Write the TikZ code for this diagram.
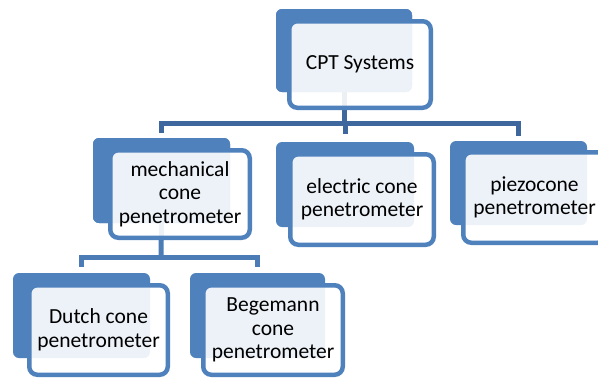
\documentclass[tikz,border=0pt]{standalone}
\usepackage{fontspec}
\setmainfont{Carlito}
\usepackage{tikz}
\usetikzlibrary{positioning, calc}
\definecolor{accent}{RGB}{79,129,189}
\definecolor{linkdark}{RGB}{62,103,158}
\definecolor{linklight}{RGB}{76,124,182}
\tikzset{
  backbox/.style ={rectangle, rounded corners=6pt, fill=accent, draw=none, inner sep=0pt},
  frontbox/.style={rectangle, rounded corners=8pt, draw=accent, line width=4.5pt,
                   fill=white, fill opacity=0.9, text opacity=1, align=center,
                   inner sep=0pt, font=\fontsize{21.5}{23.5}\selectfont},
  conn/.style    ={draw=linkdark, line width=5pt},
  connlow/.style ={draw=linklight, line width=5pt},
}
\begin{document}
\begin{tikzpicture}[x=1pt, y=-1pt]
\useasboundingbox (0,0) rectangle (598,378);
\clip (0,0) rectangle (598,378);
% back plates
\node[backbox, minimum width=136pt, minimum height=83pt] (cptB)   at (344,50.5)   {};
\node[backbox, minimum width=137pt, minimum height=85pt] (mechB)  at (161.5,180.5) {};
\node[backbox, minimum width=138pt, minimum height=85pt] (elecB)  at (345,184.5)  {};
\node[backbox, minimum width=137pt, minimum height=84pt] (piezoB) at (518.5,183)  {};
\node[backbox, minimum width=137pt, minimum height=85pt] (dutchB) at (81.5,315.5) {};
\node[backbox, minimum width=135pt, minimum height=85pt] (begB)   at (257.5,315.5) {};
% connectors
\coordinate (j1) at (344,123.5);
\coordinate (j2) at (161,257);
\draw[conn] (cptB.south) -- (j1);
\draw[conn, shorten <=5pt, shorten >=5pt] (mechB.north) |- (j1) -| (piezoB.north);
\draw[conn, shorten <=8pt] (elecB.north) -- (elecB.north |- j1);
\draw[connlow] (mechB.south) -- (j2);
\draw[connlow, shorten <=6pt, shorten >=6pt] (dutchB.north) |- (j2) -| (begB.north);
% redraw plates over connector ends
\node[backbox, minimum width=136pt, minimum height=83pt] at (cptB)   {};
\node[backbox, minimum width=137pt, minimum height=85pt] at (mechB)  {};
% front boxes
\node[frontbox, minimum width=141.5pt, minimum height=86.5pt] (cpt)   at (360,64.5)  {CPT Systems};
\node[frontbox, minimum width=139.5pt, minimum height=87.5pt] (mech)  at (180,194)   {mechanical\\cone\\penetrometer};
\node[frontbox, minimum width=143.5pt, minimum height=90.5pt] (elec)  at (362,199.5) {electric cone\\penetrometer};
\node[frontbox, minimum width=142.5pt, minimum height=90.5pt] (piezo) at (534.5,197.5) {piezocone\\penetrometer};
\node[frontbox, minimum width=138.5pt, minimum height=89.5pt] (dutch) at (98.5,330)  {Dutch cone\\penetrometer};
\node[frontbox, minimum width=139.5pt, minimum height=89.5pt] (beg)   at (273,330)   {Begemann\\cone\\penetrometer};
\end{tikzpicture}
\end{document}
